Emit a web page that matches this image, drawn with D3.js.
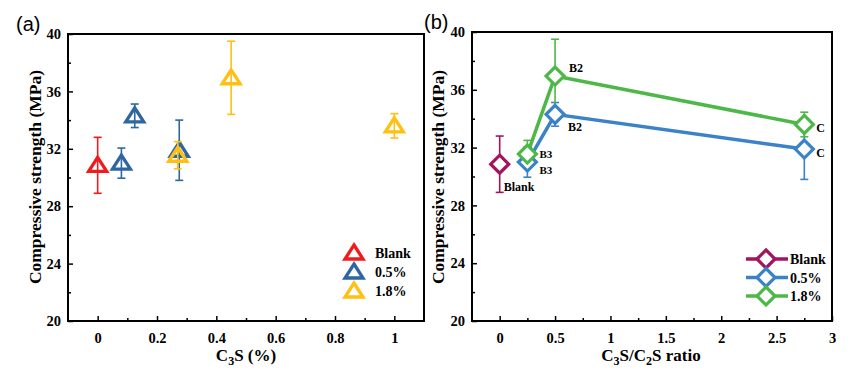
<!DOCTYPE html>
<html>
<head>
<meta charset="utf-8">
<script src="https://cdn.jsdelivr.net/npm/d3@7"></script>
<style>
  body { margin: 0; background: #fff; }
  svg text { font-family: "Liberation Serif", "Times New Roman", serif; font-weight: bold; }
</style>
</head>
<body>
<svg id="chart" width="859" height="375"></svg>
<script>
// data
var seriesNames = ["Blank", "0.5%", "1.8%"];
var blankX = [0];
var blankY = [30.85];
var blankErr = [1.95];

var pctX05 = [0.08, 0.125, 0.275];
var pctX18 = [0.27, 0.45, 1.0];
var ratioX = [0.25, 0.5, 2.75];

var y05 = [31.0, 34.3, 31.9];
var err05 = [1.05, 0.82, 2.1];
var y18 = [31.55, 36.95, 33.6];
var err18 = [0.95, 2.55, 0.85];
var pointLabels = ["B3", "B2", "C"];

var yTicks = [20, 24, 28, 32, 36, 40];
var xTicksA = [0, 0.2, 0.4, 0.6, 0.8, 1];
var xTicksB = [0, 0.5, 1, 1.5, 2, 2.5, 3];

var colA = ["#ee1c1c", "#2e67a0", "#ffc012"];
var colB = ["#a3145f", "#3b82c6", "#4db848"];

var svg = d3.select("#chart");

function makeFrame(g, x, y, w, h, majX, minX) {
    // ticks point inward
    g.append("g").attr("transform", "translate(0," + h + ")")
        .call(d3.axisBottom(x).tickValues(majX).tickSize(-5).tickFormat(d3.format("")).tickPadding(12));
    g.append("g").attr("transform", "translate(0," + h + ")")
        .call(d3.axisBottom(x).tickValues(minX).tickSize(-3).tickFormat(""));
    g.append("g")
        .call(d3.axisLeft(y).tickValues(yTicks).tickSize(-5).tickPadding(7));
    g.append("g")
        .call(d3.axisLeft(y).tickValues([22, 26, 30, 34, 38]).tickSize(-3).tickFormat(""));
    g.selectAll(".domain").remove();
    g.selectAll(".tick line").attr("stroke", "#000").attr("stroke-width", 1.5);
    g.selectAll(".tick text").attr("font-size", 14.5).attr("fill", "#000")
        .style("font-family", "'Liberation Serif', serif").style("font-weight", "bold");
    g.append("rect").attr("x", 0).attr("y", 0).attr("width", w).attr("height", h)
        .attr("fill", "none").attr("stroke", "#000").attr("stroke-width", 2);
}

function errBars(g, x, y, xs, ys, es, color, cap) {
    xs.forEach(function(xv, i) {
        var px = x(xv), top = y(ys[i] + es[i]), bot = y(ys[i] - es[i]);
        g.append("line").attr("x1", px).attr("x2", px).attr("y1", top).attr("y2", bot)
            .attr("stroke", color).attr("stroke-width", 1.6);
        [top, bot].forEach(function(py) {
            g.append("line").attr("x1", px - cap).attr("x2", px + cap).attr("y1", py).attr("y2", py)
                .attr("stroke", color).attr("stroke-width", 1.6);
        });
    });
}

var triPath = "M0,-8 L9,6 L-9,6 Z";
var diaPath = "M0,-9 L9,0 L0,9 L-9,0 Z";

// ---------- panel (a) ----------
var gA = svg.append("g").attr("transform", "translate(68,34)");
var wA = 356, hA = 287;
var xA = d3.scaleLinear().domain([-0.1, 1.1]).range([0, wA]);
var yA = d3.scaleLinear().domain([20, 40]).range([hA, 0]);
makeFrame(gA, xA, yA, wA, hA, xTicksA, [0.1, 0.3, 0.5, 0.7, 0.9]);

var setsA = [
    {x: blankX, y: blankY, e: blankErr, c: colA[0]},
    {x: pctX05, y: y05, e: err05, c: colA[1]},
    {x: pctX18, y: y18, e: err18, c: colA[2]}
];
setsA.forEach(function(s) {
    errBars(gA, xA, yA, s.x, s.y, s.e, s.c, 4);
    s.x.forEach(function(xv, i) {
        gA.append("path").attr("d", triPath)
            .attr("transform", "translate(" + xA(xv) + "," + yA(s.y[i]) + ")")
            .attr("fill", "none").attr("stroke", s.c).attr("stroke-width", 3.3);
    });
});

// legend (a)
seriesNames.forEach(function(n, i) {
    var ly = 219 + i * 19;
    gA.append("path").attr("d", triPath)
        .attr("transform", "translate(286," + ly + ")")
        .attr("fill", "none").attr("stroke", colA[i]).attr("stroke-width", 3.3);
    gA.append("text").attr("x", 307).attr("y", ly + 5).attr("font-size", 14).text(n);
});

// axis titles (a)
svg.append("text").attr("transform", "translate(41,177) rotate(-90)")
    .attr("text-anchor", "middle").attr("font-size", 17.5).text("Compressive strength (MPa)");
var tA = svg.append("text").attr("x", 246).attr("y", 361).attr("text-anchor", "middle").attr("font-size", 17);
tA.append("tspan").text("C");
tA.append("tspan").attr("dy", 4).attr("font-size", 12).text("3");
tA.append("tspan").attr("dy", -4).text("S (%)");

svg.append("text").attr("x", 16).attr("y", 31).attr("font-size", 20)
    .style("font-family", "'Liberation Sans', Arial, sans-serif").style("font-weight", "normal").text("(a)");

// ---------- panel (b) ----------
var gB = svg.append("g").attr("transform", "translate(472,32)");
var wB = 360, hB = 289;
var xB = d3.scaleLinear().domain([-0.25, 3]).range([0, wB]);
var yB = d3.scaleLinear().domain([20, 40]).range([hB, 0]);
makeFrame(gB, xB, yB, wB, hB, xTicksB, [0.25, 0.75, 1.25, 1.75, 2.25, 2.75]);

var line = d3.line().x(function(d) { return xB(d[0]); }).y(function(d) { return yB(d[1]); });
var setsB = [
    {x: blankX, y: blankY, e: blankErr, c: colB[0]},
    {x: ratioX, y: y05, e: err05, c: colB[1]},
    {x: ratioX, y: y18, e: err18, c: colB[2]}
];
setsB.forEach(function(s) {
    errBars(gB, xB, yB, s.x, s.y, s.e, s.c, 4);
});
setsB.forEach(function(s) {
    var pts = s.x.map(function(xv, i) { return [xv, s.y[i]]; });
    gB.append("path").attr("d", line(pts)).attr("fill", "none")
        .attr("stroke", s.c).attr("stroke-width", 3.5);
    pts.forEach(function(p) {
        gB.append("path").attr("d", diaPath)
            .attr("transform", "translate(" + xB(p[0]) + "," + yB(p[1]) + ")")
            .attr("fill", "#fff").attr("stroke", s.c).attr("stroke-width", 3.2);
    });
});

// point labels (b)
var lblOff05 = [[12, 12], [13, 17], [12, 8]];
var lblOff18 = [[12, 4], [14, -4], [12, 8]];
pointLabels.forEach(function(t, i) {
    var fs = i === 0 ? 11 : 12;
    gB.append("text").attr("x", xB(ratioX[i]) + lblOff05[i][0]).attr("y", yB(y05[i]) + lblOff05[i][1])
        .attr("font-size", fs).text(t);
    gB.append("text").attr("x", xB(ratioX[i]) + lblOff18[i][0]).attr("y", yB(y18[i]) + lblOff18[i][1])
        .attr("font-size", fs).text(t);
});
gB.append("text").attr("x", xB(blankX[0]) + 4).attr("y", yB(blankY[0]) + 27)
    .attr("font-size", 12).text("Blank");

// legend (b)
seriesNames.forEach(function(n, i) {
    var ly = 227 + i * 18.5;
    gB.append("line").attr("x1", 274).attr("x2", 316).attr("y1", ly).attr("y2", ly)
        .attr("stroke", colB[i]).attr("stroke-width", 3.5);
    gB.append("path").attr("d", diaPath)
        .attr("transform", "translate(294," + ly + ")")
        .attr("fill", "#fff").attr("stroke", colB[i]).attr("stroke-width", 3.2);
    gB.append("text").attr("x", 318).attr("y", ly + 5).attr("font-size", 14).text(n);
});

// axis titles (b)
svg.append("text").attr("transform", "translate(444,177) rotate(-90)")
    .attr("text-anchor", "middle").attr("font-size", 17.5).text("Compressive strength (MPa)");
var tB = svg.append("text").attr("x", 651).attr("y", 361).attr("text-anchor", "middle").attr("font-size", 17);
tB.append("tspan").text("C");
tB.append("tspan").attr("dy", 4).attr("font-size", 12).text("3");
tB.append("tspan").attr("dy", -4).text("S/C");
tB.append("tspan").attr("dy", 4).attr("font-size", 12).text("2");
tB.append("tspan").attr("dy", -4).text("S ratio");

svg.append("text").attr("x", 424).attr("y", 29).attr("font-size", 20)
    .style("font-family", "'Liberation Sans', Arial, sans-serif").style("font-weight", "normal").text("(b)");
</script>
</body>
</html>
